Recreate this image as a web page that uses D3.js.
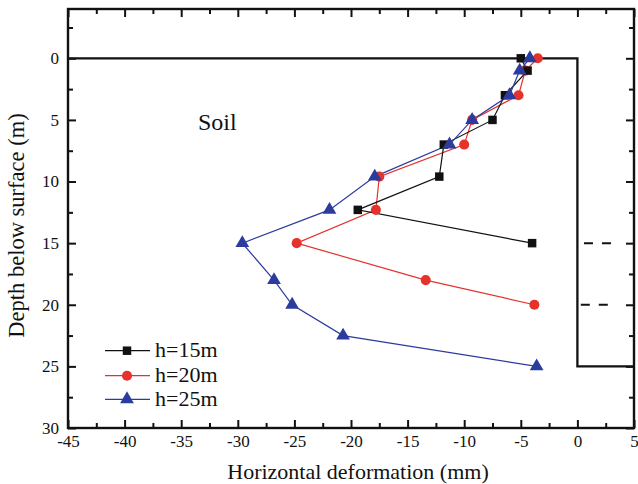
<!DOCTYPE html>
<html>
<head>
<meta charset="utf-8">
<script src="https://cdn.jsdelivr.net/npm/d3@7"></script>
<style>
  html, body { margin: 0; padding: 0; background: #fff; }
  svg { display: block; }
  text { font-family: "Liberation Serif", "Times New Roman", serif; fill: #111; }
</style>
</head>
<body>
<svg id="chart" width="638" height="484"></svg>
<script>
// ---- Data ----
const seriesNames = ["h=15m", "h=20m", "h=25m"];
const depth15 = [0, 1, 3, 5, 7, 9.6, 12.3, 15];
const defo15  = [-5.0, -4.4, -6.4, -7.5, -11.8, -12.2, -19.4, -4.0];
const depth20 = [0, 1, 3, 5, 7, 9.6, 12.3, 15, 18, 20];
const defo20  = [-3.5, -4.6, -5.2, -9.3, -10.0, -17.5, -17.8, -24.8, -13.4, -3.8];
const depth25 = [0, 1, 3, 5, 7, 9.6, 12.3, 15, 18, 20, 22.5, 25];
const defo25  = [-4.2, -5.1, -6.0, -9.3, -11.3, -17.9, -21.9, -29.6, -26.8, -25.2, -20.7, -3.6];
const xTicks = [-45, -40, -35, -30, -25, -20, -15, -10, -5, 0, 5];
const yTicks = [0, 5, 10, 15, 20, 25, 30];
// wall outline (x in mm, depth in m) and anchor levels
const wallOutline = [[-45, 0], [0, 0], [0, 25], [5, 25]];
const anchorDepths = [15, 20];

const colors = ["#111111", "#e5322d", "#2b3c9e"];
const shapes = [d3.symbolSquare, d3.symbolCircle, d3.symbolTriangle];
const symSizes = [72, 80, 82];

// ---- Layout ----
const svg = d3.select("#chart");
const L = 68, R = 634, T = 9, B = 428;
const x = d3.scaleLinear().domain([-45, 5]).range([L, R]);
const y = d3.scaleLinear().domain([-4, 30]).range([T, B]);

const xMinor = d3.range(-45, 5.01, 2.5).filter(v => !xTicks.includes(v));
const yMinor = d3.range(-2.5, 30.01, 2.5).filter(v => !yTicks.includes(v));
const fmt = d => String(d);

function styleAxis(g) {
  g.select(".domain").remove();
  g.selectAll(".tick line").attr("stroke", "#111").attr("stroke-width", 2);
  g.selectAll(".tick text").attr("font-size", 17).attr("fill", "#111")
    .attr("font-family", '"Liberation Serif", "Times New Roman", serif');
}

// bottom
svg.append("g").attr("transform", `translate(0,${B})`)
  .call(d3.axisBottom(x).tickValues(xTicks).tickSizeInner(-8).tickSizeOuter(0).tickPadding(7).tickFormat(fmt))
  .call(styleAxis);
svg.append("g").attr("transform", `translate(0,${B})`)
  .call(d3.axisBottom(x).tickValues(xMinor).tickSizeInner(-5).tickSizeOuter(0).tickFormat(""))
  .call(styleAxis);
// top
svg.append("g").attr("transform", `translate(0,${T})`)
  .call(d3.axisTop(x).tickValues(xTicks).tickSizeInner(-8).tickSizeOuter(0).tickFormat(""))
  .call(styleAxis);
svg.append("g").attr("transform", `translate(0,${T})`)
  .call(d3.axisTop(x).tickValues(xMinor).tickSizeInner(-5).tickSizeOuter(0).tickFormat(""))
  .call(styleAxis);
// left
svg.append("g").attr("transform", `translate(${L},0)`)
  .call(d3.axisLeft(y).tickValues(yTicks).tickSizeInner(-8).tickSizeOuter(0).tickPadding(9).tickFormat(fmt))
  .call(styleAxis);
svg.append("g").attr("transform", `translate(${L},0)`)
  .call(d3.axisLeft(y).tickValues(yMinor).tickSizeInner(-5).tickSizeOuter(0).tickFormat(""))
  .call(styleAxis);
// right
svg.append("g").attr("transform", `translate(${R},0)`)
  .call(d3.axisRight(y).tickValues(yTicks).tickSizeInner(-8).tickSizeOuter(0).tickFormat(""))
  .call(styleAxis);
svg.append("g").attr("transform", `translate(${R},0)`)
  .call(d3.axisRight(y).tickValues(yMinor).tickSizeInner(-5).tickSizeOuter(0).tickFormat(""))
  .call(styleAxis);

// frame
svg.append("rect").attr("x", L).attr("y", T).attr("width", R - L).attr("height", B - T)
  .attr("fill", "none").attr("stroke", "#111").attr("stroke-width", 2.4);

// wall outline
svg.append("path")
  .attr("d", d3.line().x(d => x(d[0])).y(d => y(d[1]))(wallOutline))
  .attr("fill", "none").attr("stroke", "#111").attr("stroke-width", 2.3);

// anchor dashed lines
const anchorStart = [0.58, 0.3];
anchorDepths.forEach((d, i) => {
  svg.append("line")
    .attr("x1", x(anchorStart[i])).attr("x2", x(anchorStart[i]) + 28)
    .attr("y1", y(d)).attr("y2", y(d))
    .attr("stroke", "#111").attr("stroke-width", 2).attr("stroke-dasharray", "9,9");
});

// Soil label
svg.append("text").attr("x", 198).attr("y", 130).attr("font-size", 24).text("Soil");

// series
const series = [
  { name: seriesNames[0], xs: defo15, ys: depth15, c: colors[0], s: shapes[0], z: symSizes[0] },
  { name: seriesNames[1], xs: defo20, ys: depth20, c: colors[1], s: shapes[1], z: symSizes[1] },
  { name: seriesNames[2], xs: defo25, ys: depth25, c: colors[2], s: shapes[2], z: symSizes[2] }
];
const drawOrder = [1, 0, 2];
const line = d3.line().x(d => x(d[0])).y(d => y(d[1]));
drawOrder.forEach(i => {
  const sr = series[i];
  const pts = sr.xs.map((v, k) => [v, sr.ys[k]]);
  svg.append("path").attr("d", line(pts)).attr("fill", "none")
    .attr("stroke", sr.c).attr("stroke-width", 1.2);
});
drawOrder.forEach(i => {
  const sr = series[i];
  const pts = sr.xs.map((v, k) => [v, sr.ys[k]]);
  svg.append("g").selectAll("path").data(pts).join("path")
    .attr("transform", d => `translate(${x(d[0])},${y(d[1])})`)
    .attr("d", d3.symbol().type(sr.s).size(sr.z)())
    .attr("fill", sr.c);
});

// legend
const legRows = [350.7, 375.7, 399.3];
series.forEach((sr, i) => {
  const g = svg.append("g").attr("transform", `translate(0,${legRows[i]})`);
  g.append("line").attr("x1", 105).attr("x2", 150).attr("y1", 0).attr("y2", 0)
    .attr("stroke", sr.c).attr("stroke-width", 1.2);
  g.append("path").attr("transform", "translate(127,0)")
    .attr("d", d3.symbol().type(sr.s).size(sr.z)()).attr("fill", sr.c);
  g.append("text").attr("x", 155).attr("y", 6.5).attr("font-size", 22).text(sr.name);
});

// axis titles
svg.append("text").attr("x", 358).attr("y", 479).attr("text-anchor", "middle")
  .attr("font-size", 22).text("Horizontal deformation (mm)");
svg.append("text").attr("transform", "translate(24,225.5) rotate(-90)")
  .attr("text-anchor", "middle").attr("font-size", 22.5).text("Depth below surface (m)");
</script>
</body>
</html>
